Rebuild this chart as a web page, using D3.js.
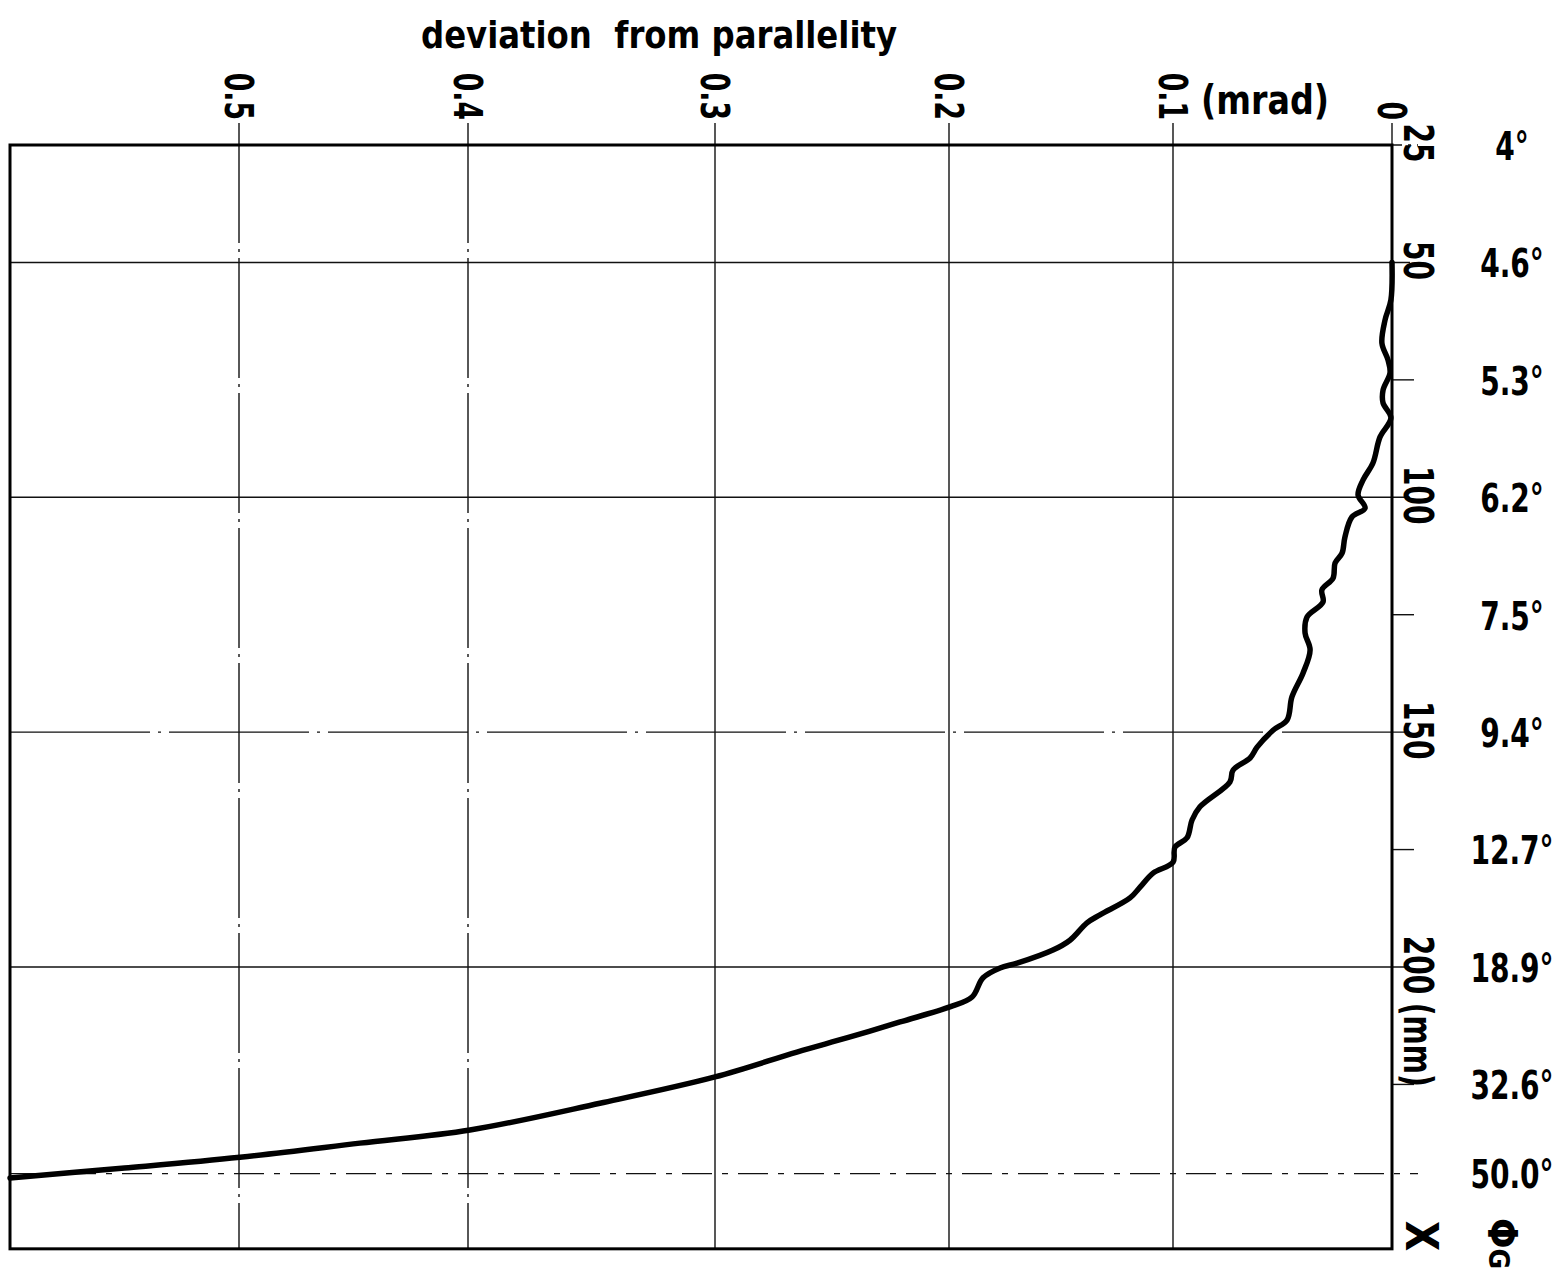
<!DOCTYPE html>
<html>
<head>
<meta charset="utf-8">
<script src="https://cdn.jsdelivr.net/npm/d3@7"></script>
<style>
  body { margin: 0; background: #fff; }
  svg { display: block; }
  text { font-family: "DejaVu Sans Condensed", "DejaVu Sans", sans-serif; font-weight: bold; fill: #000; }
</style>
</head>
<body>
<svg id="chart" width="1561" height="1275"></svg>
<script>
// deviation ticks (mrad), drawn along the top
const devTicks = [0.1, 0.2, 0.3, 0.4, 0.5];
const devTickLabels = ['0.1', '0.2', '0.3', '0.4', '0.5'];

// X position (mm), drawn along the right side
const mmTicks = [25, 50, 100, 150, 200];
const mmTickLabels = ['25', '50', '100', '150', '200'];
const mmMinorTicks = [75, 125, 175, 225];

// grazing angle Phi_G at given X
const angleMm = [25, 50, 75, 100, 125, 150, 175, 200, 225, 244];
const angleLabels = ['4°', '4.6°', '5.3°', '6.2°', '7.5°', '9.4°', '12.7°', '18.9°', '32.6°', '50.0°'];

const curveMm = [50, 58, 62.3, 67.2, 70.8, 73.5, 77.2, 79.9, 83.1, 87.2, 92.7, 96.3, 99.5, 102.3,
  104.2, 108.5, 111.9, 114, 117.2, 119.7, 122.3, 125.5, 128.9, 132.5, 137.4, 142.5, 147.4, 149.6,
  153.2, 155.5, 158.1, 160.6, 165.9, 168.7, 172.5, 174.5, 177.7, 180, 183, 185.3, 188.9, 190.6,
  194.3, 196.4, 199.2, 200.2, 202.3, 206.4, 208.5, 211.7, 215, 218.1, 223.4, 229, 234.7, 237.5,
  240.5, 242.8, 244.9];
const curveDev = [0, 0.0005, 0.0032, 0.0046, 0.0018, 0.0009, 0.0041, 0.0041, 0.0005, 0.0055,
  0.0087, 0.0132, 0.0155, 0.0123, 0.0183, 0.0215, 0.0228, 0.026, 0.0269, 0.032, 0.0315, 0.0388,
  0.0397, 0.0374, 0.0406, 0.0457, 0.0479, 0.0543, 0.0616, 0.0648, 0.0726, 0.074, 0.0877, 0.0913,
  0.0936, 0.0991, 0.1, 0.1089, 0.1147, 0.1192, 0.1326, 0.1384, 0.146, 0.1536, 0.1696, 0.1772,
  0.1848, 0.1897, 0.1996, 0.2209, 0.243, 0.265, 0.3, 0.3466, 0.3992, 0.4472, 0.4996, 0.55, 0.6];

const svg = d3.select('#chart');

// hand drawn scale: spacing between the ticks is not quite even
const x = d3.scaleLinear()
  .domain([0, 0.1, 0.2, 0.3, 0.4, 0.5, 0.6])
  .range([1392, 1173, 949, 715, 468, 239, 10]);
const y = d3.scaleLinear().domain([25, 200]).range([145, 967]);
const mmBottom = 260;

// the lettering is a narrow stencil face; squeeze the condensed font
const narrow = 0.76;

const grid = svg.append('g')
  .attr('stroke', '#111')
  .attr('stroke-width', 1.4)
  .attr('fill', 'none');

// vertical grid lines, reaching a bit above the frame
grid.selectAll('line.v')
  .data(devTicks)
  .join('line')
  .attr('x1', d => x(d)).attr('x2', d => x(d))
  .attr('y1', y(25) - 22).attr('y2', y(mmBottom))
  .attr('stroke-dasharray', d => d >= 0.4 ? '120,6,3,6' : null);

// tick above the zero
grid.append('line')
  .attr('x1', x(0)).attr('x2', x(0))
  .attr('y1', y(25) - 22).attr('y2', y(25));

// horizontal grid lines, reaching a bit right of the frame
grid.selectAll('line.h')
  .data(mmTicks.slice(1))
  .join('line')
  .attr('x1', x(0.6)).attr('x2', x(0) + 18)
  .attr('y1', d => y(d)).attr('y2', d => y(d))
  .attr('stroke-dasharray', d => d === 150 ? '140,8,3,8' : null);

// 50 degree line
grid.append('line')
  .attr('x1', x(0.6)).attr('x2', x(0) + 26)
  .attr('y1', y(244)).attr('y2', y(244))
  .attr('stroke-dasharray', '30,10,6,10');

// minor ticks on the right
grid.selectAll('line.m')
  .data(mmMinorTicks)
  .join('line')
  .attr('x1', x(0)).attr('x2', x(0) + 22)
  .attr('y1', d => y(d)).attr('y2', d => y(d));

grid.append('line')
  .attr('x1', x(0)).attr('x2', x(0) + 26)
  .attr('y1', y(25)).attr('y2', y(25))
  .attr('stroke-dasharray', '10,6,3,6');

// frame
svg.append('rect')
  .attr('x', x(0.6)).attr('y', y(25))
  .attr('width', x(0) - x(0.6)).attr('height', y(mmBottom) - y(25))
  .attr('fill', 'none')
  .attr('stroke', '#000')
  .attr('stroke-width', 3);

// curve
const line = d3.line()
  .x(d => x(d[1]))
  .y(d => y(d[0]))
  .curve(d3.curveCatmullRom.alpha(0.5));

svg.append('path')
  .datum(curveMm.map((m, i) => [m, curveDev[i]]))
  .attr('d', line)
  .attr('fill', 'none')
  .attr('stroke', '#000')
  .attr('stroke-width', 5.5)
  .attr('stroke-linejoin', 'round')
  .attr('stroke-linecap', 'round');

// title
svg.append('text')
  .attr('x', 421).attr('y', 48)
  .attr('font-size', 38)
  .attr('textLength', 476)
  .attr('lengthAdjust', 'spacingAndGlyphs')
  .style('white-space', 'pre')
  .text('deviation  from parallelity');

// top tick labels, turned a quarter clockwise
svg.selectAll('text.dev')
  .data(devTicks.map((d, i) => [d, devTickLabels[i]]).concat([[0, '0']]))
  .join('text')
  .attr('font-size', 39)
  .attr('text-anchor', 'end')
  .attr('dominant-baseline', 'central')
  .attr('transform', d => `translate(${x(d[0])},120) rotate(90) scale(${narrow},1)`)
  .text(d => d[1]);

svg.append('text')
  .attr('x', 1201).attr('y', 114)
  .attr('font-size', 40)
  .attr('textLength', 128)
  .attr('lengthAdjust', 'spacingAndGlyphs')
  .text('(mrad)');

// right tick labels, also turned
svg.selectAll('text.mm')
  .data(mmTicks.map((d, i) => [d, mmTickLabels[i]]))
  .join('text')
  .attr('font-size', 41)
  .attr('text-anchor', 'middle')
  .attr('dominant-baseline', 'central')
  .attr('transform', d => `translate(1418,${y(d[0]) - 2}) rotate(90) scale(${narrow},1)`)
  .text(d => d[1]);

svg.append('text')
  .attr('font-size', 41)
  .attr('dominant-baseline', 'central')
  .attr('transform', `translate(1418,${y(200) + 26}) rotate(90) scale(${narrow},1)`)
  .style('white-space', 'pre')
  .text(' (mm)');

// angle labels
svg.selectAll('text.ang')
  .data(angleMm.map((d, i) => [d, angleLabels[i]]))
  .join('text')
  .attr('font-size', 39)
  .attr('text-anchor', 'middle')
  .attr('dominant-baseline', 'central')
  .attr('transform', d => `translate(1512,${y(d[0]) + 1}) scale(${narrow + 0.04},1)`)
  .text(d => d[1]);

// axis symbols at the bottom
svg.append('text')
  .attr('font-size', 44)
  .attr('text-anchor', 'middle')
  .attr('dominant-baseline', 'central')
  .attr('transform', 'translate(1421,1236) rotate(90)')
  .text('X');

const phi = svg.append('text')
  .attr('font-size', 40)
  .attr('dominant-baseline', 'central')
  .attr('transform', 'translate(1502,1218) rotate(90)');
phi.append('tspan').text('Φ');
phi.append('tspan').attr('font-size', 28).attr('dy', 3).text('G');
</script>
</body>
</html>
